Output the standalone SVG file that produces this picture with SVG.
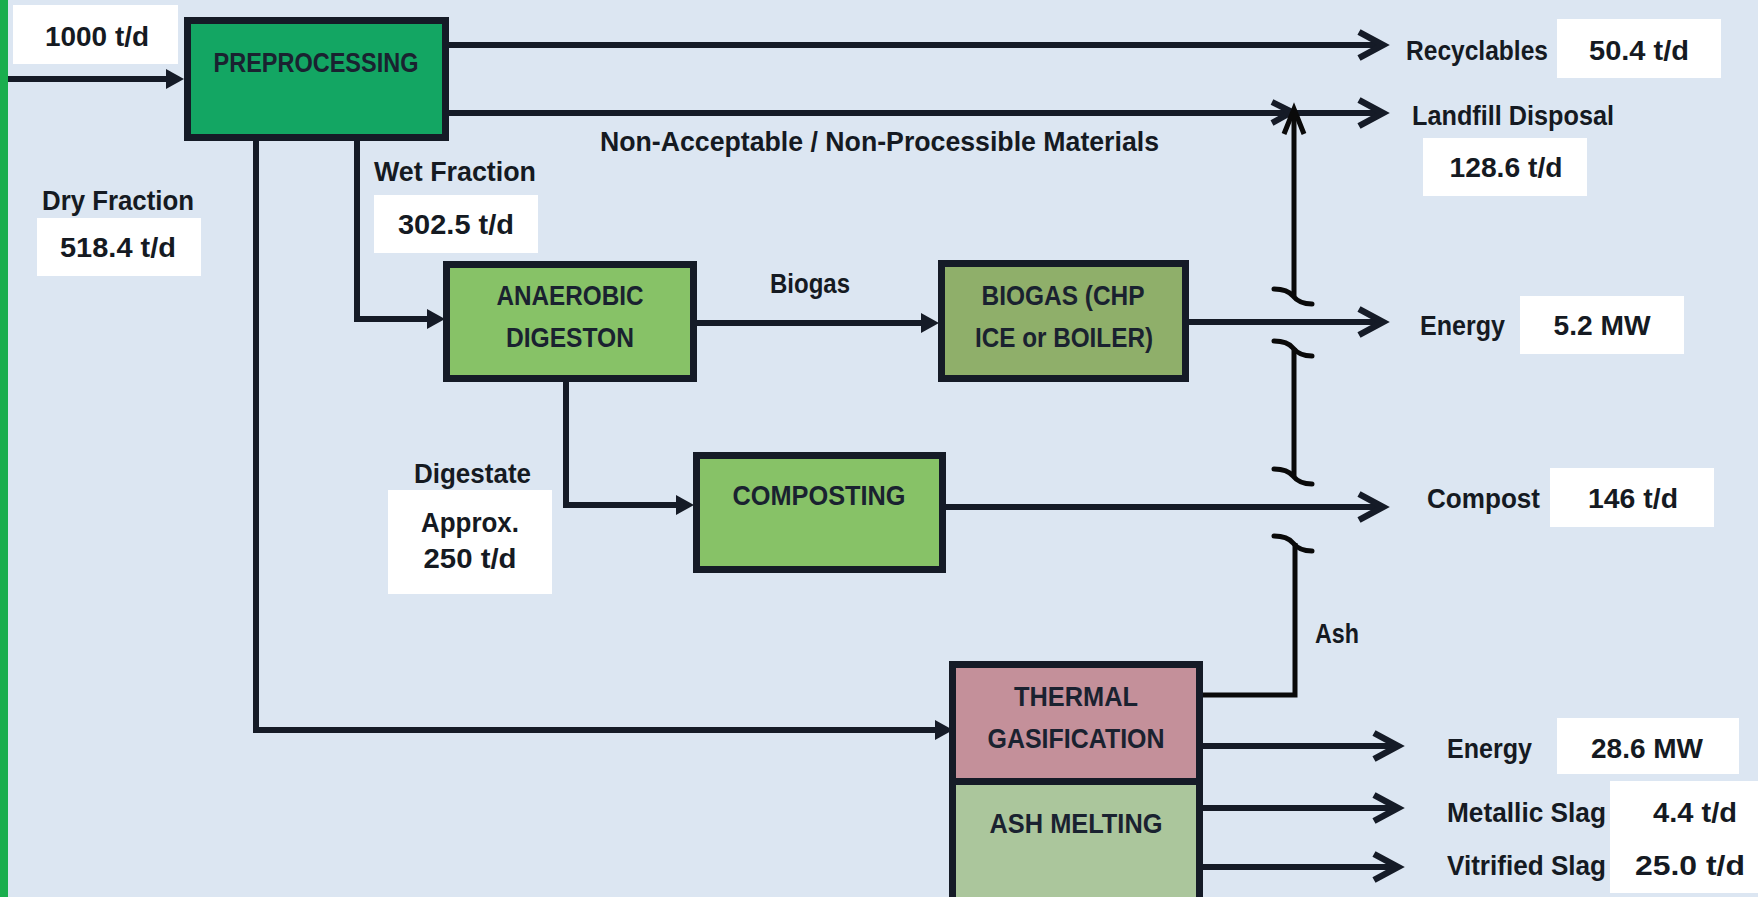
<svg xmlns="http://www.w3.org/2000/svg" width="1758" height="897" viewBox="0 0 1758 897">
<defs>
<style>
.t{font-family:"Liberation Sans",Arial,sans-serif;font-weight:bold;font-size:27px;fill:#151a22}
.n{font-family:"Liberation Sans",Arial,sans-serif;font-weight:bold;font-size:27px;fill:#1a2230}
.wb{fill:#ffffff}
.nb{stroke:#151b27;stroke-width:7}
.c{fill:none;stroke:#151b27;stroke-width:6}
.k{fill:none;stroke:#0a0a0a;stroke-width:5}
.sq{fill:none;stroke:#0a0a0a;stroke-width:5;stroke-linecap:round}
</style>
<marker id="tri" markerUnits="userSpaceOnUse" markerWidth="20" markerHeight="22" refX="8" refY="10" orient="auto" overflow="visible">
<path d="M0,0 L18,10 L0,20 Z" fill="#151b27"/>
</marker>
<marker id="chev" markerUnits="userSpaceOnUse" markerWidth="30" markerHeight="30" refX="21" refY="13" orient="auto" overflow="visible">
<path d="M0,0 L24,13 L0,26" fill="none" stroke="#151b27" stroke-width="6.5" stroke-linejoin="miter"/>
</marker>
</defs>
<rect x="0" y="0" width="1758" height="897" fill="#dce6f2"/>
<rect x="0" y="0" width="8" height="897" fill="#1aae4e"/>

<g id="connectors">
<path class="c" d="M8,79 H174" stroke-width="7" marker-end="url(#tri)"/>
<path class="c" d="M449,45 H1380" marker-end="url(#chev)"/>
<path class="c" d="M449,113 H1380" marker-end="url(#chev)"/>
<path class="c" d="M1272,102 L1292,112 L1272,123" stroke-linejoin="miter"/>
<path class="k" d="M1284,134 L1294,109 L1304,134" stroke-width="6"/>
<path class="k" d="M1294,112 V296"/>
<path class="k" d="M1294,348 V476"/>
<path class="k" d="M1202,695 H1295 V543"/>
<path class="sq" d="M1274,289 C1284,289 1289,291 1293,296 C1297,301 1302,304 1312,304"/>
<path class="sq" d="M1274,341 C1284,341 1289,343 1293,348 C1297,353 1302,356 1312,356"/>
<path class="sq" d="M1274,469 C1284,469 1289,471 1293,476 C1297,481 1302,484 1312,484"/>
<path class="sq" d="M1274,536 C1284,536 1289,538 1293,543 C1297,548 1302,551 1312,551"/>
<path class="c" d="M1189,322 H1380" marker-end="url(#chev)"/>
<path class="c" d="M946,507 H1380" marker-end="url(#chev)"/>
<path class="c" d="M357,141 V319 H435" marker-end="url(#tri)"/>
<path class="c" d="M697,323 H929" marker-end="url(#tri)"/>
<path class="c" d="M566,382 V505 H684" marker-end="url(#tri)"/>
<path class="c" d="M256,141 V730 H943" marker-end="url(#tri)"/>
<path class="c" d="M1202,746 H1395" marker-end="url(#chev)"/>
<path class="c" d="M1202,808 H1395" marker-end="url(#chev)"/>
<path class="c" d="M1202,867 H1395" marker-end="url(#chev)"/>
</g>

<g id="labels">
<rect class="wb" x="13" y="5" width="165" height="59"/>
<text class="t" x="97" y="46" text-anchor="middle" textLength="104" lengthAdjust="spacingAndGlyphs">1000 t/d</text>
<text class="t" x="1406" y="60" textLength="142" lengthAdjust="spacingAndGlyphs">Recyclables</text>
<rect class="wb" x="1557" y="19" width="164" height="59"/>
<text class="t" x="1639" y="60" text-anchor="middle" textLength="100" lengthAdjust="spacingAndGlyphs">50.4 t/d</text>
<text class="t" x="1412" y="125" textLength="202" lengthAdjust="spacingAndGlyphs">Landfill Disposal</text>
<rect class="wb" x="1423" y="138" width="164" height="58"/>
<text class="t" x="1506" y="177" text-anchor="middle" textLength="113" lengthAdjust="spacingAndGlyphs">128.6 t/d</text>
<text class="t" x="600" y="151" textLength="559" lengthAdjust="spacingAndGlyphs">Non-Acceptable / Non-Processible Materials</text>
<text class="t" x="374" y="181" textLength="162" lengthAdjust="spacingAndGlyphs">Wet Fraction</text>
<rect class="wb" x="374" y="195" width="164" height="58"/>
<text class="t" x="456" y="234" text-anchor="middle" textLength="116" lengthAdjust="spacingAndGlyphs">302.5 t/d</text>
<text class="t" x="42" y="210" textLength="152" lengthAdjust="spacingAndGlyphs">Dry Fraction</text>
<rect class="wb" x="37" y="218" width="164" height="58"/>
<text class="t" x="118" y="257" text-anchor="middle" textLength="116" lengthAdjust="spacingAndGlyphs">518.4 t/d</text>
<text class="t" x="770" y="293" textLength="80" lengthAdjust="spacingAndGlyphs">Biogas</text>
<text class="t" x="1420" y="335" textLength="85" lengthAdjust="spacingAndGlyphs">Energy</text>
<rect class="wb" x="1520" y="296" width="164" height="58"/>
<text class="t" x="1602" y="335" text-anchor="middle" textLength="97" lengthAdjust="spacingAndGlyphs">5.2 MW</text>
<text class="t" x="414" y="483" textLength="117" lengthAdjust="spacingAndGlyphs">Digestate</text>
<rect class="wb" x="388" y="490" width="164" height="104"/>
<text class="t" x="470" y="532" text-anchor="middle" textLength="98" lengthAdjust="spacingAndGlyphs">Approx.</text>
<text class="t" x="470" y="568" text-anchor="middle" textLength="93" lengthAdjust="spacingAndGlyphs">250 t/d</text>
<text class="t" x="1427" y="508" textLength="113" lengthAdjust="spacingAndGlyphs">Compost</text>
<rect class="wb" x="1550" y="468" width="164" height="59"/>
<text class="t" x="1633" y="508" text-anchor="middle" textLength="90" lengthAdjust="spacingAndGlyphs">146 t/d</text>
<text class="t" x="1315" y="643" textLength="44" lengthAdjust="spacingAndGlyphs">Ash</text>
<text class="t" x="1447" y="758" textLength="85" lengthAdjust="spacingAndGlyphs">Energy</text>
<rect class="wb" x="1557" y="718" width="182" height="56"/>
<text class="t" x="1647" y="758" text-anchor="middle" textLength="112" lengthAdjust="spacingAndGlyphs">28.6 MW</text>
<rect class="wb" x="1610" y="781" width="148" height="112"/>
<text class="t" x="1447" y="822" textLength="159" lengthAdjust="spacingAndGlyphs">Metallic Slag</text>
<text class="t" x="1695" y="822" text-anchor="middle" textLength="84" lengthAdjust="spacingAndGlyphs">4.4 t/d</text>
<text class="t" x="1447" y="875" textLength="159" lengthAdjust="spacingAndGlyphs">Vitrified Slag</text>
<text class="t" x="1690" y="875" text-anchor="middle" textLength="110" lengthAdjust="spacingAndGlyphs">25.0 t/d</text>
</g>

<g id="preprocessing">
<rect class="nb" x="187.5" y="20.5" width="258" height="117" fill="#13a663"/>
<text class="n" x="316" y="72" text-anchor="middle" textLength="205" lengthAdjust="spacingAndGlyphs">PREPROCESSING</text>
</g>
<g id="anaerobic">
<rect class="nb" x="446.5" y="264.5" width="247" height="114" fill="#87c267"/>
<text class="n" x="570" y="305" text-anchor="middle" textLength="147" lengthAdjust="spacingAndGlyphs">ANAEROBIC</text>
<text class="n" x="570" y="347" text-anchor="middle" textLength="128" lengthAdjust="spacingAndGlyphs">DIGESTON</text>
</g>
<g id="biogas">
<rect class="nb" x="941.5" y="263.5" width="244" height="115" fill="#8faf6a"/>
<text class="n" x="1063" y="305" text-anchor="middle" textLength="163" lengthAdjust="spacingAndGlyphs">BIOGAS (CHP</text>
<text class="n" x="1064" y="347" text-anchor="middle" textLength="178" lengthAdjust="spacingAndGlyphs">ICE or BOILER)</text>
</g>
<g id="composting">
<rect class="nb" x="696.5" y="455.5" width="246" height="114" fill="#87c267"/>
<text class="n" x="819" y="505" text-anchor="middle" textLength="173" lengthAdjust="spacingAndGlyphs">COMPOSTING</text>
</g>
<g id="thermal">
<rect class="nb" x="952.5" y="664.5" width="247" height="117" fill="#c4909a"/>
<text class="n" x="1076" y="706" text-anchor="middle" textLength="124" lengthAdjust="spacingAndGlyphs">THERMAL</text>
<text class="n" x="1076" y="748" text-anchor="middle" textLength="177" lengthAdjust="spacingAndGlyphs">GASIFICATION</text>
</g>
<g id="ashmelting">
<rect class="nb" x="952.5" y="781.5" width="247" height="130" fill="#abc69c"/>
<text class="n" x="1076" y="833" text-anchor="middle" textLength="173" lengthAdjust="spacingAndGlyphs">ASH MELTING</text>
</g>
</svg>
